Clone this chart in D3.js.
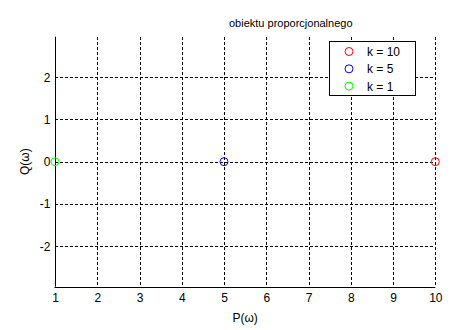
<!DOCTYPE html>
<html>
<head>
<meta charset="utf-8">
<script src="https://cdn.jsdelivr.net/npm/d3@7"></script>
<style>
  body { margin: 0; background: #fff; }
  svg { display: block; font-family: Arial, "Liberation Sans", sans-serif; }
</style>
</head>
<body>
<svg id="figure" width="461" height="330"></svg>
<script>
// Data
const seriesLabels = ["k = 10", "k = 5", "k = 1"];
const seriesColors = ["#ff0000", "#0000ff", "#00ff00"];
const pValues = [10, 5, 1];
const qValues = [0, 0, 0];
const xTicks = [1, 2, 3, 4, 5, 6, 7, 8, 9, 10];
const yTicks = [-2, -1, 0, 1, 2];

const axLeft = 55, axRight = 435.3, axTop = 36.7, axBottom = 286.7;

const figure = d3.select("#figure");

const xScale = d3.scaleLinear().domain([1, 10]).range([axLeft, axRight]);
const yScale = d3.scaleLinear().domain([-2.96, 2.96]).range([axBottom, axTop]);

// Grid
const grid = figure.append("g")
    .attr("stroke", "#000")
    .attr("stroke-width", 1)
    .attr("stroke-dasharray", "3,2")
    .attr("shape-rendering", "crispEdges");

grid.selectAll(".vgrid")
    .data(xTicks.slice(1))
    .join("line")
    .attr("x1", d => Math.round(xScale(d)) + 0.5)
    .attr("x2", d => Math.round(xScale(d)) + 0.5)
    .attr("y1", axTop)
    .attr("y2", axBottom);

grid.selectAll(".hgrid")
    .data(yTicks)
    .join("line")
    .attr("x1", axLeft)
    .attr("x2", axRight)
    .attr("y1", d => Math.round(yScale(d)) + 0.5)
    .attr("y2", d => Math.round(yScale(d)) + 0.5);

// Axes (left and bottom only)
const xAxis = d3.axisBottom(xScale).tickValues(xTicks).tickFormat(d => String(d)).tickSize(0).tickPadding(6);
const yAxis = d3.axisLeft(yScale).tickValues(yTicks).tickFormat(d => String(d)).tickSize(0).tickPadding(5);

const gx = figure.append("g")
    .attr("transform", `translate(0, ${Math.round(axBottom) + 0.5})`)
    .call(xAxis);
gx.select(".domain").attr("d", `M${axLeft - 0.5},0H${axRight}`).attr("stroke", "#000");

const gy = figure.append("g")
    .attr("transform", `translate(${Math.round(axLeft) + 0.5}, 0)`)
    .call(yAxis);
gy.select(".domain").attr("d", `M0,${axTop}V${axBottom}`).attr("stroke", "#000");

figure.selectAll(".tick text")
    .attr("fill", "#000")
    .style("font-size", "12px")
    .style("font-family", "Arial, 'Liberation Sans', sans-serif");

// Markers
figure.selectAll(".marker")
    .data(pValues)
    .join("circle")
    .attr("cx", d => xScale(d))
    .attr("cy", (d, i) => yScale(qValues[i]))
    .attr("r", 4)
    .attr("fill", "none")
    .attr("stroke", (d, i) => seriesColors[i])
    .attr("stroke-width", 1);

// Labels
figure.append("text")
    .attr("x", 229)
    .attr("y", 27)
    .text("obiektu proporcjonalnego")
    .style("font-size", "11px")
    .attr("fill", "#000");

figure.append("text")
    .attr("x", (axLeft + axRight) / 2)
    .attr("y", 322)
    .attr("text-anchor", "middle")
    .text("P(ω)")
    .style("font-size", "12px")
    .attr("fill", "#000");

figure.append("text")
    .attr("transform", `translate(29, ${(axTop + axBottom) / 2}) rotate(270)`)
    .attr("text-anchor", "middle")
    .text("Q(ω)")
    .style("font-size", "12px")
    .attr("fill", "#000");

// Legend
const legend = figure.append("g").attr("transform", "translate(329.5, 41.5)");

legend.append("rect")
    .attr("width", 86)
    .attr("height", 54)
    .attr("fill", "#fff")
    .attr("stroke", "#000")
    .attr("stroke-width", 1);

const legendItems = legend.selectAll(".legend-item")
    .data(seriesLabels)
    .join("g")
    .attr("transform", (d, i) => `translate(0, ${10 + i * 17.3})`);

legendItems.append("circle")
    .attr("cx", 19.5)
    .attr("cy", 0)
    .attr("r", 4)
    .attr("fill", "none")
    .attr("stroke", (d, i) => seriesColors[i]);

legendItems.append("text")
    .text(d => d)
    .attr("x", 37.5)
    .attr("y", 4.5)
    .style("font-size", "12px")
    .attr("fill", "#000");
</script>
</body>
</html>
